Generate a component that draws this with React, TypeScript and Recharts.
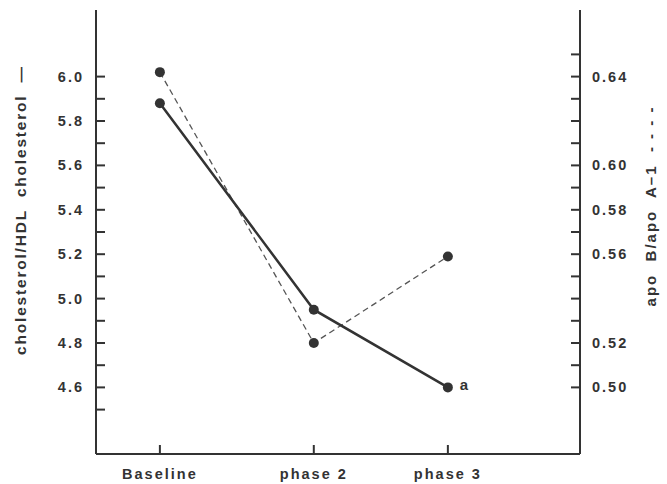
import { LineChart, Line, XAxis, YAxis } from 'recharts'

const categories = ['Baseline', 'phase 2', 'phase 3']
const xPos = [13.2, 45, 72.7]
const ratioValues = [5.88, 4.95, 4.6]
const apoValues = [0.642, 0.52, 0.559]
const notes = ['', '', 'a']

const leftTicks = [4.5, 4.6, 4.7, 4.8, 4.9, 5.0, 5.1, 5.2, 5.3, 5.4, 5.5, 5.6, 5.7, 5.8, 5.9, 6.0]
const leftLabels = [4.6, 4.8, 5.0, 5.2, 5.4, 5.6, 5.8, 6.0]
const rightTicks = [0.5, 0.51, 0.52, 0.53, 0.54, 0.55, 0.56, 0.57, 0.58, 0.59, 0.6, 0.61, 0.62, 0.63, 0.64, 0.65]
const rightLabels = [0.5, 0.52, 0.56, 0.58, 0.6, 0.64]

const data = categories.map((name, i) => ({
    name,
    x: xPos[i],
    ratio: ratioValues[i],
    apo: apoValues[i],
}))

const ink = '#333'
const font = '"Liberation Sans", Arial, sans-serif'
const textStyle = { fontFamily: font, fontWeight: 700, fontSize: 14.5, letterSpacing: 2, fill: ink, whiteSpace: 'pre' as const }

const LeftTick = (props: any) => {
    const { x, y, payload } = props
    return (
        <g>
            <line x1={x} y1={y} x2={x + 9} y2={y} stroke={ink} strokeWidth={2} />
            {leftLabels.includes(payload.value) && (
                <text x={x - 12} y={y} dy={5} textAnchor="end" style={textStyle}>
                    {payload.value.toFixed(1)}
                </text>
            )}
        </g>
    )
}

const RightTick = (props: any) => {
    const { x, y, payload } = props
    return (
        <g>
            <line x1={x} y1={y} x2={x - 9} y2={y} stroke={ink} strokeWidth={2} />
            {rightLabels.includes(payload.value) && (
                <text x={x + 12} y={y} dy={5} textAnchor="start" style={textStyle}>
                    {payload.value.toFixed(2)}
                </text>
            )}
        </g>
    )
}

const BottomTick = (props: any) => {
    const { x, y, payload } = props
    const idx = xPos.indexOf(payload.value)
    return (
        <g>
            <line x1={x} y1={y} x2={x} y2={y - 9} stroke={ink} strokeWidth={2} />
            <text x={x} y={y + 25} textAnchor="middle" style={textStyle}>
                {categories[idx]}
            </text>
        </g>
    )
}

export default function App() {
    return (
        <div style={{ position: 'absolute', left: 0, top: 0, background: '#fff' }}>
            <LineChart
                width={667}
                height={484}
                data={data}
                margin={{ top: 10, right: 0, left: 0, bottom: 0 }}
            >
                <XAxis
                    dataKey="x"
                    type="number"
                    domain={[0, 100]}
                    ticks={xPos}
                    interval={0}
                    height={30}
                    tickSize={0}
                    tickMargin={0}
                    tickLine={false}
                    axisLine={{ stroke: ink, strokeWidth: 2 }}
                    tick={<BottomTick />}
                />
                <YAxis
                    yAxisId="left"
                    orientation="left"
                    type="number"
                    domain={[4.3, 6.3]}
                    allowDataOverflow
                    ticks={leftTicks}
                    interval={0}
                    width={96}
                    tickSize={0}
                    tickMargin={0}
                    tickLine={false}
                    axisLine={{ stroke: ink, strokeWidth: 2 }}
                    tick={<LeftTick />}
                    label={{
                        content: () => (
                            <text
                                x={20}
                                y={210}
                                transform="rotate(-90 20 210)"
                                textAnchor="middle"
                                dominantBaseline="central"
                                style={{ ...textStyle, fontSize: 15.5, letterSpacing: 1.8 }}
                            >
                                cholesterol/HDL  cholesterol  —
                            </text>
                        ),
                    }}
                />
                <YAxis
                    yAxisId="right"
                    orientation="right"
                    type="number"
                    domain={[0.47, 0.67]}
                    allowDataOverflow
                    ticks={rightTicks}
                    interval={0}
                    width={87}
                    tickSize={0}
                    tickMargin={0}
                    tickLine={false}
                    axisLine={{ stroke: ink, strokeWidth: 2 }}
                    tick={<RightTick />}
                    label={{
                        content: () => (
                            <text
                                x={650}
                                y={206}
                                transform="rotate(-90 650 206)"
                                textAnchor="middle"
                                dominantBaseline="central"
                                style={{ ...textStyle, fontSize: 15, letterSpacing: 2 }}
                            >
                                apo  B/apo  A–1  - - - -
                            </text>
                        ),
                    }}
                />
                <Line
                    yAxisId="right"
                    dataKey="apo"
                    type="linear"
                    stroke="#555"
                    strokeWidth={1.3}
                    strokeDasharray="6 4"
                    dot={{ r: 5, fill: ink, stroke: ink, strokeWidth: 0 }}
                    isAnimationActive={false}
                />
                <Line
                    yAxisId="left"
                    dataKey="ratio"
                    type="linear"
                    stroke={ink}
                    strokeWidth={2.5}
                    dot={{ r: 5, fill: ink, stroke: ink, strokeWidth: 0 }}
                    isAnimationActive={false}
                    label={(p: any) =>
                        notes[p.index] ? (
                            <text key={p.index} x={p.x + 12} y={p.y + 3} style={{ ...textStyle, fontSize: 15 }}>
                                {notes[p.index]}
                            </text>
                        ) : null
                    }
                />
            </LineChart>
        </div>
    )
}
